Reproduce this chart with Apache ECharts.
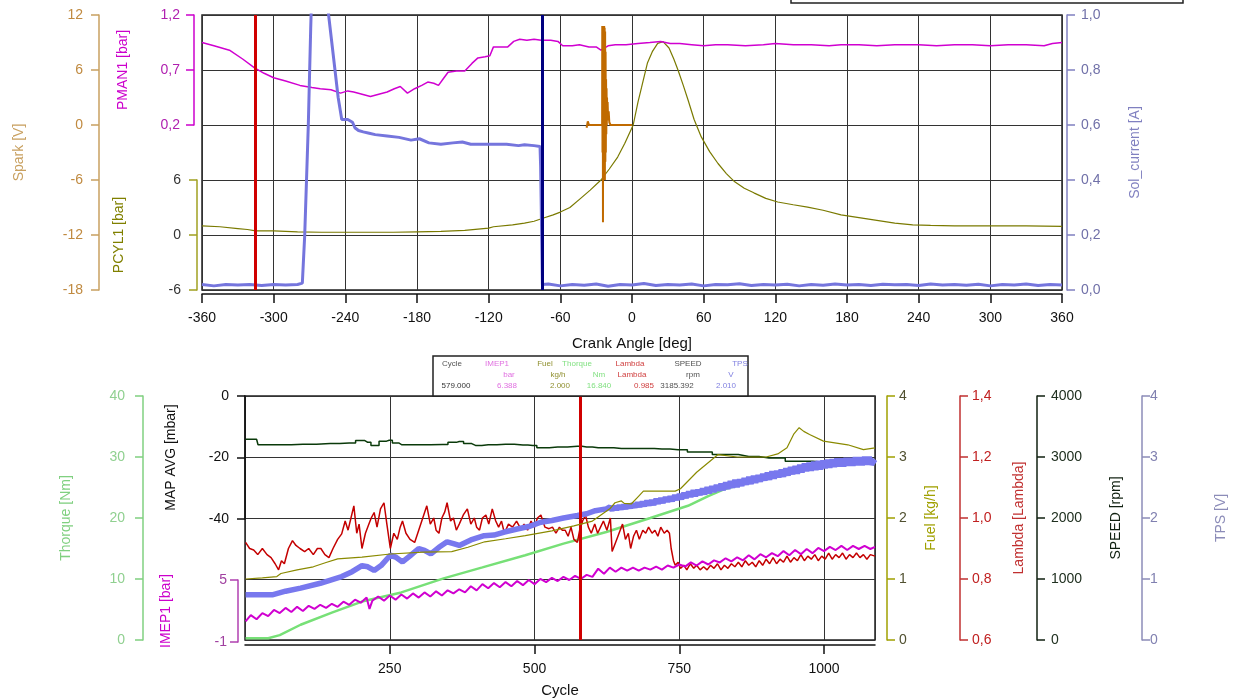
<!DOCTYPE html>
<html>
<head>
<meta charset="utf-8">
<script src="https://cdn.jsdelivr.net/npm/echarts@6/dist/echarts.min.js"></script>
<style>html,body{margin:0;padding:0;background:#fff}#c{width:1247px;height:699px}</style>
</head>
<body>
<div id="c"></div>
<script>
// ---------- TOP CHART DATA (x = crank angle, deg) ----------
const pman1 = [[-360,0.95],[-350,0.92],[-337,0.88],[-326,0.80],[-316,0.72],[-308,0.67],[-300,0.63],[-290,0.60],[-278,0.56],[-268,0.54],[-261,0.53],[-252,0.52],[-244,0.49],[-238,0.51],[-233,0.50],[-226,0.48],[-219,0.46],[-212,0.48],[-205,0.50],[-199,0.53],[-194,0.55],[-188,0.49],[-182,0.53],[-176,0.56],[-171,0.59],[-166,0.58],[-162,0.56],[-158,0.62],[-154,0.68],[-147,0.69],[-140,0.69],[-134,0.76],[-129,0.81],[-123,0.82],[-119,0.83],[-116,0.91],[-109,0.91],[-104,0.91],[-99,0.96],[-94,0.98],[-88,0.97],[-82,0.98],[-76,0.97],[-68,0.97],[-62,0.96],[-58,0.92],[-50,0.92],[-44,0.93],[-36,0.91],[-30,0.91],[-26,0.88],[-20,0.92],[-14,0.93],[-5,0.93],[5,0.94],[15,0.95],[24,0.96],[32,0.94],[40,0.94],[50,0.93],[60,0.92],[70,0.93],[80,0.93],[95,0.92],[110,0.93],[120,0.94],[135,0.93],[150,0.93],[165,0.92],[175,0.93],[190,0.93],[205,0.92],[220,0.93],[240,0.93],[255,0.92],[270,0.93],[285,0.93],[300,0.92],[315,0.93],[330,0.93],[345,0.92],[352,0.94],[360,0.95]];
const pcyl1 = [[-360,1.0],[-345,0.9],[-330,0.7],[-322,0.6],[-315,0.45],[-300,0.45],[-290,0.4],[-280,0.35],[-260,0.3],[-240,0.3],[-220,0.3],[-200,0.3],[-180,0.35],[-160,0.4],[-140,0.5],[-120,0.75],[-116,0.9],[-100,1.1],[-90,1.3],[-82,1.5],[-74,1.85],[-66,2.2],[-60,2.5],[-52,3.0],[-43,4.0],[-35,4.9],[-26,6.0],[-19,7.2],[-12,8.5],[-6,10.0],[1,12.0],[5,14.5],[8,16.1],[13,18.8],[17,20.0],[21.5,20.9],[26,21.1],[31,20.4],[35,19.2],[38.5,18.0],[43,16.3],[47,14.7],[52,12.6],[58,10.7],[65,9.1],[72,7.8],[79,6.7],[86,5.8],[94,5.1],[102,4.6],[112,4.0],[122,3.6],[135,3.3],[147,3.05],[160,2.7],[175,2.2],[190,1.9],[205,1.6],[220,1.3],[235,1.1],[250,1.05],[270,1.0],[300,1.0],[330,1.0],[360,0.95]];
const spark = [[-38,-0.3],[-37,0.4],[-36,0],[-30,0],[-25,0],[-24.9,10.8],[-24.7,-3],[-24.5,10.8],[-24.3,-10.6],[-24.1,10.8],[-23.9,-5],[-23.7,10.8],[-23.5,-6],[-23.3,10.8],[-23.1,-5],[-22.9,10.6],[-22.7,-6],[-22.5,10.2],[-22.3,-4],[-22.1,8],[-21.9,-3],[-21.7,5],[-21.5,-1],[-21.3,4],[-21.1,0],[-20.9,3],[-20.7,0.5],[-20.4,2.5],[-20,0.5],[-19.5,1.5],[-19,0.3],[-18,0],[-10,0],[0,0]];
const solCurrent = [[-360,0.02],[-350,0.015],[-340,0.02],[-330,0.018],[-320,0.02],[-310,0.016],[-300,0.02],[-290,0.018],[-280,0.02],[-276,0.025],[-274,0.2],[-271,0.6],[-269,0.95],[-268,1.1],[-256,1.1],[-254,1.0],[-250,0.85],[-246,0.7],[-243,0.62],[-238,0.62],[-234,0.61],[-232,0.59],[-229,0.58],[-225,0.575],[-220,0.57],[-215,0.565],[-205,0.56],[-195,0.555],[-185,0.545],[-178,0.55],[-170,0.535],[-160,0.53],[-150,0.535],[-142,0.538],[-135,0.53],[-120,0.53],[-105,0.53],[-95,0.525],[-90,0.528],[-82,0.525],[-77,0.522],[-76.5,0.45],[-75,0.02],[-70,0.022],[-60,0.015],[-50,0.02],[-40,0.017],[-30,0.022],[-20,0.014],[-10,0.02],[0,0.018],[10,0.024],[20,0.016],[30,0.02],[40,0.018],[50,0.022],[60,0.015],[70,0.02],[80,0.019],[90,0.023],[100,0.016],[110,0.02],[120,0.018],[130,0.021],[140,0.015],[150,0.02],[160,0.017],[170,0.022],[180,0.018],[190,0.02],[200,0.016],[210,0.021],[220,0.019],[230,0.02],[240,0.016],[250,0.022],[260,0.018],[270,0.02],[280,0.017],[290,0.021],[300,0.015],[310,0.02],[320,0.018],[330,0.022],[340,0.016],[350,0.02],[360,0.018]];
const topMarkers = [-315.5, -75.5];

// ---------- BOTTOM CHART DATA (x = cycle) ----------
const thorque = [[1,0.3],[40,0.3],[60,0.8],[96,2.5],[150,4.5],[202,6.3],[270,7.8],[343,10.1],[410,11.9],[484,13.9],[550,15.8],[624,17.7],[700,20.0],[765,22.0],[800,23.6],[830,24.8],[900,26.6],[970,28.1],[1040,29.1],[1088,29.4]];
const speed = [[1,3290],[20,3290],[25,3200],[60,3200],[100,3210],[147,3220],[180,3230],[202,3270],[212,3240],[223,3190],[240,3260],[249,3275],[260,3230],[271,3200],[300,3200],[341,3205],[360,3240],[370,3255],[385,3220],[398,3190],[420,3200],[450,3210],[480,3195],[497,3190],[511,3150],[540,3165],[574,3175],[590,3165],[610,3150],[624,3150],[650,3140],[694,3138],[720,3130],[748,3120],[780,3080],[834,3040],[870,3010],[905,2985],[961,2930],[1000,2915],[1088,2900]];
const fuel = [[1,1.0],[30,1.02],[55,1.04],[62,1.09],[90,1.15],[118,1.2],[140,1.27],[160,1.33],[202,1.36],[251,1.41],[308,1.44],[357,1.45],[385,1.52],[414,1.61],[450,1.66],[484,1.71],[530,1.79],[568,1.87],[600,1.95],[630,2.15],[639,2.25],[650,2.28],[655,2.24],[667,2.23],[680,2.36],[688,2.44],[720,2.44],[743,2.44],[752,2.48],[780,2.75],[817,3.04],[850,3.0],[900,3.0],[920,3.05],[936,3.15],[948,3.38],[957,3.48],[965,3.42],[975,3.37],[999,3.26],[1041,3.2],[1068,3.12],[1088,3.15]];
const tps = [[1,0.74],[20,0.74],[47,0.74],[70,0.8],[96,0.85],[130,0.93],[167,1.04],[185,1.12],[202,1.22],[212,1.2],[223,1.14],[235,1.22],[251,1.39],[260,1.36],[272,1.28],[285,1.38],[300,1.5],[310,1.47],[321,1.41],[335,1.52],[349,1.61],[360,1.58],[370,1.55],[390,1.64],[413,1.71],[430,1.72],[448,1.77],[470,1.82],[490,1.86],[511,1.93],[530,1.96],[550,2.0],[574,2.04],[590,2.07],[605,2.12],[624,2.15],[630,2.18],[634,2.13],[638,2.19],[642,2.14],[646,2.2],[650,2.15],[654,2.21],[658,2.16],[662,2.22],[666,2.17],[670,2.23],[674,2.18],[678,2.25],[682,2.19],[686,2.26],[690,2.2],[694,2.28],[698,2.21],[702,2.29],[706,2.22],[710,2.31],[714,2.24],[718,2.32],[722,2.25],[726,2.34],[730,2.27],[734,2.35],[738,2.28],[742,2.37],[746,2.3],[750,2.39],[754,2.31],[758,2.41],[762,2.33],[766,2.43],[770,2.35],[774,2.45],[778,2.36],[782,2.46],[786,2.38],[790,2.48],[794,2.39],[798,2.5],[802,2.41],[806,2.52],[810,2.43],[814,2.54],[818,2.45],[822,2.56],[826,2.46],[830,2.58],[834,2.48],[838,2.6],[842,2.5],[846,2.62],[850,2.51],[854,2.63],[858,2.53],[862,2.65],[866,2.55],[870,2.67],[874,2.56],[878,2.69],[882,2.58],[886,2.7],[890,2.6],[894,2.72],[898,2.62],[902,2.74],[906,2.63],[910,2.76],[914,2.65],[918,2.77],[922,2.67],[926,2.79],[930,2.68],[934,2.81],[938,2.7],[942,2.83],[946,2.72],[950,2.85],[954,2.73],[958,2.87],[962,2.75],[966,2.89],[970,2.77],[974,2.9],[978,2.78],[982,2.92],[986,2.79],[990,2.93],[994,2.8],[998,2.94],[1002,2.82],[1006,2.95],[1010,2.83],[1014,2.96],[1018,2.84],[1022,2.97],[1026,2.85],[1030,2.97],[1034,2.85],[1038,2.98],[1042,2.86],[1046,2.98],[1050,2.86],[1054,2.99],[1058,2.87],[1062,2.99],[1066,2.87],[1070,3.0],[1074,2.88],[1078,3.0],[1082,2.88],[1088,2.96]];
const lambda = [[1,0.92],[8,0.9],[15,0.895],[22,0.88],[30,0.9],[38,0.88],[45,0.87],[52,0.85],[58,0.83],[63,0.86],[68,0.85],[75,0.9],[82,0.926],[88,0.91],[95,0.9],[103,0.89],[110,0.9],[118,0.88],[125,0.9],[131,0.9],[138,0.88],[145,0.87],[152,0.9],[160,0.93],[167,0.948],[173,0.99],[178,0.96],[183,1.0],[188,1.04],[193,0.95],[197,0.98],[202,0.9],[208,0.95],[214,0.98],[218,1.0],[223,1.018],[228,0.97],[234,1.03],[240,1.05],[245,0.98],[251,0.9],[257,0.95],[263,0.93],[268,0.97],[272,0.99],[278,0.95],[285,0.93],[293,0.92],[300,0.96],[307,1.0],[314,1.04],[320,0.98],[326,1.0],[330,0.96],[335,0.95],[340,1.0],[345,1.02],[349,1.05],[355,0.99],[360,1.0],[365,0.96],[370,0.98],[377,1.01],[384,1.03],[390,0.98],[396,1.0],[400,0.97],[405,0.96],[410,1.0],[416,1.01],[421,0.98],[427,1.03],[433,0.99],[438,0.97],[443,0.99],[448,0.95],[455,0.98],[462,0.97],[469,0.99],[476,0.965],[482,0.98],[488,0.96],[494,0.99],[500,0.97],[505,1.0],[511,1.01],[518,0.97],[525,0.965],[531,0.97],[537,0.95],[543,0.97],[548,0.96],[553,0.96],[558,0.94],[563,0.97],[568,0.93],[574,0.92],[578,0.96],[583,0.99],[588,1.01],[593,0.97],[598,0.95],[604,0.98],[609,0.95],[614,0.97],[619,0.99],[625,0.96],[631,1.0],[634,0.89],[640,0.92],[646,0.95],[652,0.98],[657,0.93],[662,0.95],[666,0.9],[671,0.94],[676,0.96],[681,0.93],[687,0.96],[692,0.95],[697,0.97],[703,0.95],[708,0.96],[713,0.94],[718,0.97],[724,0.95],[729,0.96],[733,0.95],[736,0.9],[740,0.86],[743,0.845],[748,0.855],[752,0.835],[758,0.845],[763,0.83],[769,0.85],[775,0.835],[780,0.845],[786,0.83],[792,0.84],[798,0.83],[804,0.845],[810,0.835],[816,0.85],[822,0.83],[828,0.845],[834,0.835],[840,0.85],[846,0.84],[852,0.855],[858,0.84],[864,0.86],[870,0.845],[876,0.855],[882,0.84],[888,0.86],[894,0.845],[900,0.865],[906,0.85],[912,0.87],[918,0.85],[924,0.865],[930,0.855],[936,0.875],[942,0.855],[948,0.87],[954,0.86],[960,0.88],[966,0.86],[972,0.875],[978,0.865],[984,0.88],[990,0.86],[996,0.875],[1002,0.865],[1008,0.885],[1014,0.865],[1020,0.88],[1026,0.87],[1032,0.885],[1038,0.865],[1044,0.88],[1050,0.87],[1056,0.885],[1062,0.87],[1068,0.88],[1074,0.865],[1080,0.88],[1088,0.875]];
const imep1 = [[1,1.0],[10,1.6],[20,1.2],[30,1.8],[40,1.5],[50,2.1],[60,1.8],[70,2.3],[80,1.9],[90,2.4],[100,2.0],[110,2.5],[120,2.2],[130,2.6],[140,2.3],[150,2.7],[160,2.4],[170,2.9],[180,2.6],[190,3.1],[200,2.8],[210,3.3],[215,2.2],[220,3.0],[230,3.4],[240,3.0],[250,3.5],[260,3.1],[270,3.6],[280,3.2],[290,3.7],[300,3.3],[310,3.8],[320,3.4],[330,3.9],[340,3.5],[350,4.0],[360,3.7],[370,4.1],[380,3.8],[390,4.4],[400,4.0],[410,4.6],[420,4.2],[430,4.7],[440,4.3],[450,4.8],[460,4.4],[470,4.9],[480,4.5],[490,5.0],[500,4.6],[510,5.1],[520,4.8],[530,5.2],[540,4.9],[550,5.3],[560,5.0],[570,5.4],[580,5.1],[590,5.5],[600,5.3],[610,6.1],[620,5.6],[630,6.2],[640,5.8],[650,6.2],[660,5.9],[670,6.2],[680,5.9],[690,6.2],[700,6.0],[710,6.3],[720,6.0],[730,6.4],[740,6.2],[750,6.5],[760,6.3],[770,6.7],[780,6.4],[790,6.8],[800,6.5],[810,6.9],[820,6.7],[830,7.1],[840,6.8],[850,7.2],[860,6.9],[870,7.4],[880,7.0],[890,7.5],[900,7.2],[910,7.6],[920,7.3],[930,7.8],[940,7.4],[950,7.9],[960,7.5],[970,8.0],[980,7.6],[990,8.1],[1000,7.8],[1010,8.2],[1020,7.9],[1030,8.3],[1040,7.9],[1050,8.3],[1060,8.0],[1070,8.3],[1080,8.0],[1088,8.2]];
const cycleMarker = 579;

// table read-out
const tableHeads = ['Cycle','IMEP1','Fuel','Thorque','Lambda','SPEED','TPS'];
const tableUnits = ['','bar','kg/h','Nm','Lambda','rpm','V'];
const tableValues = ['579.000','6.388','2.000','16.840','0.985','3185.392','2.010'];

// ---------- STYLE ----------
const FONT = 'Liberation Sans, Arial, sans-serif';
const comma = v => v.toFixed(1).replace('.', ',');
const plain = v => String(v);
const headX = [452,497,545,577,630,688,740];
const unitX = [452,509,558,599,632,693,731];
const valX  = [456,507,560,599,644,677,726];
const tableCols = ['#555','#e070e0','#909030','#80e080','#d04040','#505050','#8080e0'];

function yAx(o) {
  const lc = o.lc || o.c;
  const base = {
    type: 'value', nameLocation: 'middle',
    nameTextStyle: {fontFamily: FONT, fontSize: 14, color: o.c},
    axisLine: {show: true, onZero: false, lineStyle: {color: lc, width: 1.5}},
    axisTick: {show: true, length: 8, lineStyle: {color: lc, width: 1.5}},
    axisLabel: Object.assign({fontFamily: FONT, fontSize: 14, color: o.lab || o.c, margin: 14, formatter: plain}, o.label || {}),
    splitLine: {show: false}
  };
  return Object.assign(base, o.opt);
}
const gridLine = {show: true, lineStyle: {color: '#333', width: 1}};

const option = {
  animation: false,
  backgroundColor: '#fff',
  grid: [
    {left: 202, top: 15, width: 860, height: 275, show: true, borderColor: '#222', borderWidth: 1.5, backgroundColor: 'transparent'},
    {left: 202, top: 15, width: 860, height: 110},
    {left: 202, top: 180, width: 860, height: 110},
    {left: 245, top: 396, width: 630, height: 246, show: true, borderColor: '#222', borderWidth: 1.5, backgroundColor: 'transparent'},
    {left: 245, top: 396, width: 630, height: 123},
    {left: 245, top: 580, width: 630, height: 62}
  ],
  xAxis: [
    {gridIndex: 0, type: 'value', min: -360, max: 360, interval: 60, offset: 4,
     name: 'Crank Angle [deg]', nameLocation: 'middle', nameGap: 42,
     nameTextStyle: {fontFamily: FONT, fontSize: 15, color: '#111'},
     axisLine: {show: true, onZero: false, lineStyle: {color: '#111', width: 1.5}},
     axisTick: {show: true, length: 9, lineStyle: {color: '#111', width: 1.5}},
     axisLabel: {fontFamily: FONT, fontSize: 14, color: '#111', margin: 17, formatter: plain},
     splitLine: gridLine},
    {gridIndex: 1, type: 'value', min: -360, max: 360, show: false, axisLine: {onZero: false}},
    {gridIndex: 2, type: 'value', min: -360, max: 360, show: false, axisLine: {onZero: false}},
    {gridIndex: 3, type: 'value', min: 0, max: 1088, interval: 250, offset: 5,
     name: 'Cycle', nameLocation: 'middle', nameGap: 38,
     nameTextStyle: {fontFamily: FONT, fontSize: 15, color: '#111'},
     axisLine: {show: true, onZero: false, lineStyle: {color: '#111', width: 1.5}},
     axisTick: {show: true, length: 9, lineStyle: {color: '#111', width: 1.5}},
     axisLabel: {fontFamily: FONT, fontSize: 14, color: '#111', margin: 17, showMinLabel: false, showMaxLabel: false, formatter: plain},
     splitLine: gridLine},
    {gridIndex: 4, type: 'value', min: 0, max: 1088, show: false, axisLine: {onZero: false}},
    {gridIndex: 5, type: 'value', min: 0, max: 1088, show: false, axisLine: {onZero: false}}
  ],
  yAxis: [
    yAx({c: '#c8a060', lab: '#c08a40', opt: {gridIndex: 0, position: 'left', offset: 103, min: -18, max: 12, interval: 6, name: 'Spark [V]', nameGap: 73, splitLine: gridLine}, label: {margin: 16}}),
    yAx({c: '#8080c0', lab: '#7070a8', opt: {gridIndex: 0, position: 'right', offset: 5, min: 0, max: 1, interval: 0.2, name: 'Sol_current [A]', nameGap: 61}, label: {formatter: comma}}),
    yAx({c: '#cc00cc', lab: '#b020b0', opt: {gridIndex: 1, position: 'left', offset: 8, min: 0.2, max: 1.2, interval: 0.5, name: 'PMAN1 [bar]', nameGap: 64}, label: {formatter: comma}}),
    yAx({c: '#808000', lc: '#a0a020', lab: '#333', opt: {gridIndex: 2, position: 'left', offset: 5, min: -6, max: 6, interval: 6, name: 'PCYL1 [bar]', nameGap: 71}, label: {margin: 16}}),
    yAx({c: '#80d080', lab: '#90d090', opt: {gridIndex: 3, position: 'left', offset: 102, min: 0, max: 40, interval: 10, name: 'Thorque [Nm]', nameGap: 70, splitLine: gridLine}, label: {margin: 18}}),
    yAx({c: '#a0a000', lab: '#505030', opt: {gridIndex: 3, position: 'right', offset: 12, min: 0, max: 4, interval: 1, name: 'Fuel [kg/h]', nameGap: 37}, label: {margin: 12}}),
    yAx({c: '#c03030', lab: '#c02020', opt: {gridIndex: 3, position: 'right', offset: 85, min: 0.6, max: 1.4, interval: 0.2, name: 'Lambda [Lambda]', nameGap: 52}, label: {margin: 12, formatter: comma}}),
    yAx({c: '#102010', lab: '#203020', opt: {gridIndex: 3, position: 'right', offset: 162, min: 0, max: 4000, interval: 1000, name: 'SPEED [rpm]', nameGap: 72}, label: {margin: 14}}),
    yAx({c: '#8c8cb8', lab: '#8080b0', opt: {gridIndex: 3, position: 'right', offset: 267, min: 0, max: 4, interval: 1, name: 'TPS [V]', nameGap: 72}, label: {margin: 8}}),
    yAx({c: '#111', opt: {gridIndex: 4, position: 'left', offset: 0, min: -40, max: 0, interval: 20, name: 'MAP AVG [mbar]', nameGap: 67}, label: {margin: 16}}),
    yAx({c: '#cc00cc', lc: '#b040b0', lab: '#a040a0', opt: {gridIndex: 5, position: 'left', offset: 7, min: -1, max: 5, interval: 6, name: 'IMEP1 [bar]', nameGap: 65}, label: {margin: 11}})
  ],
  series: [
    {type: 'line', name: 'PCYL1', xAxisIndex: 2, yAxisIndex: 3, data: pcyl1, showSymbol: false, clip: false, lineStyle: {color: '#7a7a00', width: 1.2}, z: 2},
    {type: 'line', name: 'PMAN1', xAxisIndex: 1, yAxisIndex: 2, data: pman1, showSymbol: false, lineStyle: {color: '#d000d0', width: 1.5}, z: 2},
    {type: 'line', name: 'Spark', xAxisIndex: 0, yAxisIndex: 0, data: spark, showSymbol: false, lineStyle: {color: '#c06a00', width: 2}, z: 3,
     markLine: {silent: true, symbol: 'none', label: {show: false},
       data: [{xAxis: topMarkers[0], lineStyle: {color: '#d00000', width: 3, type: 'solid'}},
              {xAxis: topMarkers[1], lineStyle: {color: '#000080', width: 3, type: 'solid'}}]}},
    {type: 'line', name: 'Sol_current', xAxisIndex: 0, yAxisIndex: 1, data: solCurrent, showSymbol: false, lineStyle: {color: '#7575dd', width: 3}, z: 4},

    {type: 'line', name: 'Thorque', xAxisIndex: 3, yAxisIndex: 4, data: thorque, showSymbol: false, lineStyle: {color: '#77e077', width: 2.5}, z: 2,
     markLine: {silent: true, symbol: 'none', label: {show: false},
       data: [{xAxis: cycleMarker, lineStyle: {color: '#d00000', width: 3, type: 'solid'}}]}},
    {type: 'line', name: 'SPEED', xAxisIndex: 3, yAxisIndex: 7, data: speed, showSymbol: false, step: 'middle', lineStyle: {color: '#0a3a0a', width: 1.5}, z: 2},
    {type: 'line', name: 'Lambda', xAxisIndex: 3, yAxisIndex: 6, data: lambda, showSymbol: false, lineStyle: {color: '#c40000', width: 1.5}, z: 3},
    {type: 'line', name: 'IMEP1', xAxisIndex: 5, yAxisIndex: 10, data: imep1, showSymbol: false, clip: false, lineStyle: {color: '#d000d0', width: 2}, z: 3},
    {type: 'line', name: 'TPS', xAxisIndex: 3, yAxisIndex: 8, data: tps, showSymbol: false, lineStyle: {color: '#7878ee', width: 5.5}, z: 4},
    {type: 'line', name: 'Fuel', xAxisIndex: 3, yAxisIndex: 5, data: fuel, showSymbol: false, lineStyle: {color: '#8a8a00', width: 1.2}, z: 5}
  ],
  graphic: []
};

// top-right legend box (clipped at top)
option.graphic.push({type: 'rect', shape: {x: 791, y: -20, width: 392, height: 23}, style: {fill: '#fff', stroke: '#222', lineWidth: 1.5}});
// read-out table
option.graphic.push({type: 'rect', shape: {x: 433, y: 356, width: 315, height: 40}, style: {fill: '#fff', stroke: '#222', lineWidth: 1.5}, z: 10});
tableHeads.forEach((t, i) => option.graphic.push({type: 'text', x: headX[i], y: 364, z: 11, style: {text: t, fill: tableCols[i], font: '8px ' + FONT, textAlign: 'center', textVerticalAlign: 'middle'}}));
tableUnits.forEach((t, i) => option.graphic.push({type: 'text', x: unitX[i], y: 375, z: 11, style: {text: t, fill: tableCols[i], font: '8px ' + FONT, textAlign: 'center', textVerticalAlign: 'middle'}}));
tableValues.forEach((t, i) => option.graphic.push({type: 'text', x: valX[i], y: 386, z: 11, style: {text: t, fill: i === 0 ? '#333' : tableCols[i], font: '8px ' + FONT, textAlign: 'center', textVerticalAlign: 'middle'}}));

const chart = echarts.init(document.getElementById('c'), null, {renderer: 'canvas'});
chart.setOption(option);
</script>
</body>
</html>
